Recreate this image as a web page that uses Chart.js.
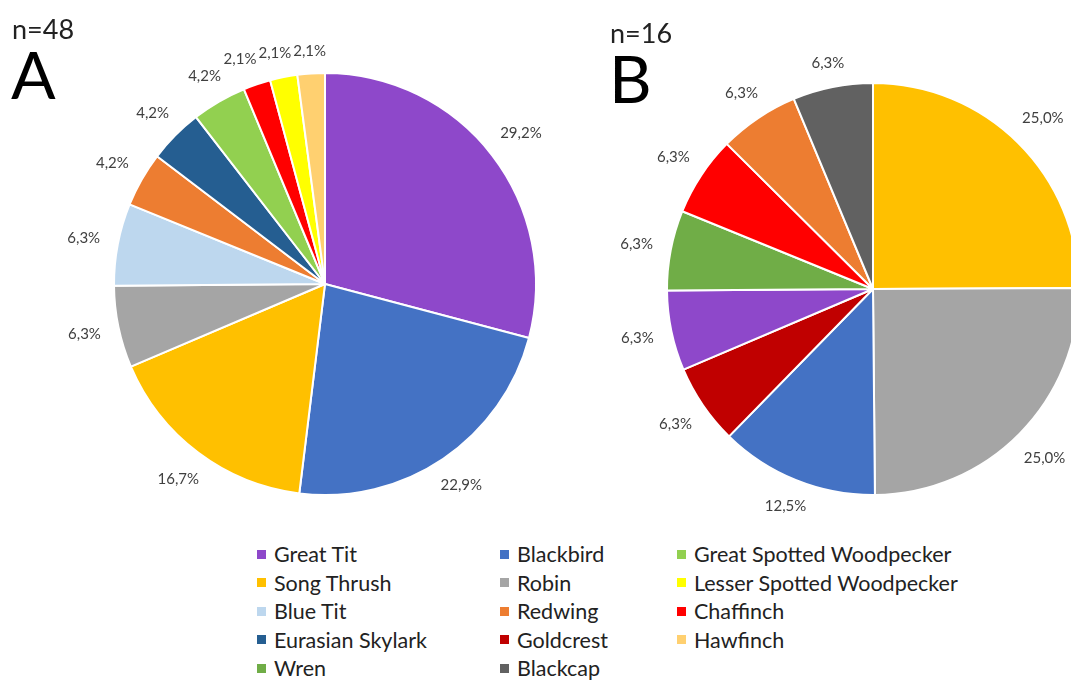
<!DOCTYPE html>
<html>
<head>
<meta charset="utf-8">
<script src="https://cdn.jsdelivr.net/npm/chart.js@4"></script>
<style>
  body { margin: 0; background: #fff; }
  #wrap { position: relative; width: 1071px; height: 680px; overflow: hidden; font-family: Lato, "Open Sans", sans-serif; }
  canvas { position: absolute; top: 0; }
  #chartA { left: 0; }
  #chartB { left: 540px; }
  .n { position: absolute; font-size: 27px; color: #222; line-height: 1; }
  .panel { position: absolute; font-size: 66px; color: #000; line-height: 1; }
  .legend { position: absolute; top: 540px; }
  .item { height: 28.5px; display: flex; align-items: center; font-size: 21.5px; color: #222; white-space: nowrap; }
  .swatch { width: 9px; height: 9px; margin-right: 8px; }
</style>
</head>
<body>
<div id="wrap">
  <canvas id="chartA" width="650" height="530"></canvas>
  <canvas id="chartB" width="560" height="530"></canvas>
  <div class="n" style="left:12px; top:15px;">n=48</div>
  <div class="panel" style="left:11px; top:41px;">A</div>
  <div class="n" style="left:610px; top:19px;">n=16</div>
  <div class="panel" style="left:609px; top:45px;">B</div>
  <div id="legend"></div>
</div>
<script>
// Sample A (n=48)
const labelsA = ['Great Tit', 'Blackbird', 'Song Thrush', 'Robin', 'Blue Tit', 'Redwing',
  'Eurasian Skylark', 'Great Spotted Woodpecker', 'Chaffinch', 'Lesser Spotted Woodpecker', 'Hawfinch'];
const valuesA = [29.2, 22.9, 16.7, 6.3, 6.3, 4.2, 4.2, 4.2, 2.1, 2.1, 2.1];

// Sample B (n=16)
const labelsB = ['Song Thrush', 'Robin', 'Blackbird', 'Goldcrest', 'Great Tit', 'Wren',
  'Chaffinch', 'Redwing', 'Blackcap'];
const valuesB = [25.0, 25.0, 12.5, 6.3, 6.3, 6.3, 6.3, 6.3, 6.3];

// legend columns, top to bottom
const legendCols = [
  ['Great Tit', 'Song Thrush', 'Blue Tit', 'Eurasian Skylark', 'Wren'],
  ['Blackbird', 'Robin', 'Redwing', 'Goldcrest', 'Blackcap'],
  ['Great Spotted Woodpecker', 'Lesser Spotted Woodpecker', 'Chaffinch', 'Hawfinch']
];

const speciesColors = {
  'Great Tit': '#8E48CA',
  'Blackbird': '#4472C4',
  'Song Thrush': '#FFC000',
  'Robin': '#A5A5A5',
  'Blue Tit': '#BDD7EE',
  'Redwing': '#ED7D31',
  'Eurasian Skylark': '#255E91',
  'Great Spotted Woodpecker': '#92D050',
  'Wren': '#70AD47',
  'Chaffinch': '#FF0000',
  'Lesser Spotted Woodpecker': '#FFFF00',
  'Hawfinch': '#FFD070',
  'Goldcrest': '#C00000',
  'Blackcap': '#616161'
};

const fmt = v => v.toFixed(1).replace('.', ',') + '%';

// percentage labels outside each slice, nudged apart when they collide
const outsideLabels = {
  id: 'outsideLabels',
  afterDatasetsDraw(chart) {
    const ctx = chart.ctx;
    const meta = chart.getDatasetMeta(0);
    const values = chart.data.datasets[0].data;
    ctx.save();
    ctx.font = '15px Lato, sans-serif';
    ctx.fillStyle = '#404040';
    ctx.textAlign = 'center';
    ctx.textBaseline = 'middle';
    const boxes = [];
    meta.data.forEach((arc, i) => {
      const p = arc.getProps(['x', 'y', 'startAngle', 'endAngle', 'outerRadius'], true);
      const mid = (p.startAngle + p.endAngle) / 2;
      const dx = Math.cos(mid), dy = Math.sin(mid);
      const text = fmt(values[i]);
      const w = ctx.measureText(text).width;
      const ext = Math.abs(dx) * w / 2 + Math.abs(dy) * 3;
      const d = p.outerRadius + 18 + ext;
      boxes.push({ text, w, x: p.x + dx * d, y: p.y + dy * d });
    });
    // walk backwards so the last small slices near the top keep their place
    for (let i = boxes.length - 2; i >= 0; i--) {
      const a = boxes[i], b = boxes[i + 1];
      if (Math.abs(a.y - b.y) < 14 && a.x < b.x && b.x - a.x < (a.w + b.w) / 2 + 2) {
        a.x = b.x - (a.w + b.w) / 2 - 2;
      }
    }
    boxes.forEach(b => ctx.fillText(b.text, b.x, b.y));
    ctx.restore();
  }
};

function makePie(id, labels, values, padding) {
  return new Chart(document.getElementById(id), {
    type: 'pie',
    data: {
      labels: labels,
      datasets: [{
        data: values,
        backgroundColor: labels.map(l => speciesColors[l]),
        borderColor: '#ffffff',
        borderWidth: 2
      }]
    },
    options: {
      responsive: false,
      animation: false,
      layout: { padding: padding },
      plugins: { legend: { display: false }, tooltip: { enabled: false } }
    },
    plugins: [outsideLabels]
  });
}

makePie('chartA', labelsA, valuesA, { left: 113, right: 113, top: 72, bottom: 34 });
makePie('chartB', labelsB, valuesB, { left: 126, right: 20, top: 82, bottom: 34 });

// legend in three columns
const legendX = [257, 500, 677];
const legend = document.getElementById('legend');
legendCols.forEach((col, c) => {
  const div = document.createElement('div');
  div.className = 'legend';
  div.style.left = legendX[c] + 'px';
  col.forEach(name => {
    div.insertAdjacentHTML('beforeend',
      `<div class="item"><span class="swatch" style="background:${speciesColors[name]}"></span>${name}</div>`);
  });
  legend.appendChild(div);
});
</script>
</body>
</html>
